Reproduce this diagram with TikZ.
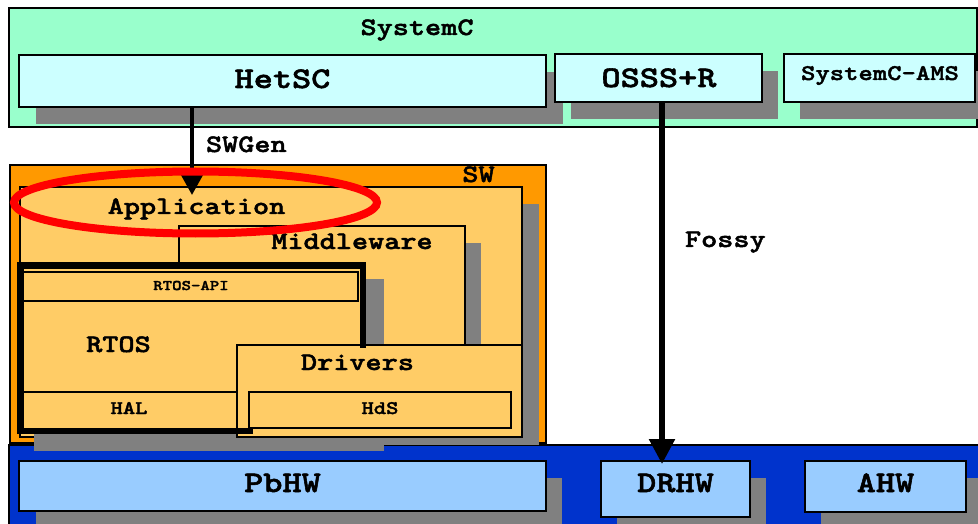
\documentclass[tikz,border=0pt]{standalone}
\usepackage{fontspec}
\usetikzlibrary{arrows.meta}
% bold typewriter face, widened to Courier proportions and darkened
\newfontfamily\cour{lmmonolt10-bold}[Extension=.otf, FakeStretch=1.22, FakeBold=1.8]
\newcommand\fs[1]{\cour\fontsize{#1}{#1}\selectfont}
\definecolor{mint}{HTML}{99FFCC}
\definecolor{paleCyan}{HTML}{CCFFFF}
\definecolor{swOrange}{HTML}{FF9900}
\definecolor{layerOrange}{HTML}{FFCC66}
\definecolor{hwBlue}{HTML}{0033CC}
\definecolor{paleBlue}{HTML}{99CCFF}
\definecolor{dropGray}{HTML}{808080}
\tikzset{
  panelbox/.style={rectangle, draw=black, line width=2pt, inner sep=0pt, outer sep=0pt},
  mintbox/.style={panelbox, fill=mint},
  cyanbox/.style={panelbox, fill=paleCyan},
  swbox/.style={panelbox, fill=swOrange},
  layerbox/.style={panelbox, fill=layerOrange},
  hwbox/.style={panelbox, fill=hwBlue},
  bluebox/.style={panelbox, fill=paleBlue},
  dropshadow/.style={fill=dropGray},
  lbl/.style={inner sep=0pt, outer sep=0pt, anchor=base, text=black},
  lblw/.style={lbl, anchor=base west},
  big/.style={font=\fs{29.9}},
  mid/.style={font=\fs{25.2}},
  ams/.style={font=\fs{22.4}},
  small/.style={font=\fs{19.2}},
  tiny/.style={font=\fs{14.7}},
  flow/.style={draw=black},
}
% \panel{name}{style}{x1}{y1}{x2}{y2}
\newcommand\panel[6]{%
  \node[#2, minimum width={(#5-#3)*1pt}, minimum height={(#6-#4)*1pt}]
    (#1) at ({(#3+#5)/2},{(#4+#6)/2}) {};}
\begin{document}
\begin{tikzpicture}[x=1pt, y=-1pt]
\useasboundingbox (0,0) rectangle (978,524);
\clip (0,0) rectangle (978,524);
\fill[white] (0,0) rectangle (978,524);

% ---- SystemC layer ----
\panel{systemc}{mintbox}{9}{8}{977}{127}
\path[dropshadow] (36,72) rectangle (563,124);
\path[dropshadow] (571,71) rectangle (778,119);
\path[dropshadow] (800,71) rectangle (992,119);
\panel{hetsc}{cyanbox}{19}{55}{546}{107}
\panel{osss}{cyanbox}{555}{54}{762}{102}
\panel{ams}{cyanbox}{784}{54}{975}{102}
\node[lbl, mid] (tsystemc) at (417,35) {SystemC};
\node[lbl, big] (thetsc) at (282.5,88) {HetSC};
\node[lbl, big] (tosss) at (659,87) {OSSS+R};
\node[lbl, ams] (tams) at (880,80) {SystemC-AMS};

% ---- hardware layer ----
\panel{hw}{hwbox}{9}{445}{995}{545}
\path[dropshadow] (36,478) rectangle (562,540);
\path[dropshadow] (617,478) rectangle (766,540);
\path[dropshadow] (821,478) rectangle (990,540);
\panel{pbhw}{bluebox}{19}{461}{546}{511}
\panel{drhw}{bluebox}{601}{461}{750}{517}
\panel{ahw}{bluebox}{805}{461}{966}{512}
\node[lbl, big] (tpbhw) at (282.5,492) {PbHW};
\node[lbl, big] (tdrhw) at (675.5,492) {DRHW};
\node[lbl, big] (tahw) at (885.5,492) {AHW};

% ---- software stack ----
\panel{sw}{swbox}{10}{165}{546}{443}
\node[lbl, mid] (tsw) at (478.5,182) {SW};
\path[dropshadow] (37,204) rectangle (539,445);
\panel{app}{layerbox}{20}{187}{522}{437}
\path[dropshadow] (196,243) rectangle (481,445);
\panel{mw}{layerbox}{179}{226}{465}{437}
\path[dropshadow] (34,279) rectangle (384,451);
\panel{rtos}{layerbox}{20}{265}{363}{431}
\panel{api}{layerbox}{22}{272}{358}{301}
\panel{hal}{layerbox}{20}{392}{237}{431}
\panel{drv}{layerbox}{237}{345}{522}{437}
\panel{hds}{layerbox}{249}{392}{511}{428}
% heavy outline round the RTOS block
\draw[line width=6.5pt, line cap=rect, line join=miter]
  (250,430.75) -- (20.25,430.75) -- (20.25,265.25) -- (362.75,265.25) -- (362.75,345);

\node[lbl, mid] (tapp) at (196.5,214) {Application};
\node[lbl, mid] (tmw) at (352,249) {Middleware};
\node[lbl, tiny] (tapi) at (191,290) {RTOS-API};
\node[lbl, mid] (trtos) at (118.5,352) {RTOS};
\node[lbl, mid] (tdrv) at (357.5,370) {Drivers};
\node[lbl, small] (thal) at (129,414) {HAL};
\node[lbl, small] (thds) at (380,414) {HdS};

% ---- generation flows ----
\coordinate (swgentip) at (192,195);
\coordinate (fossytip) at (662,464);
\draw[flow, line width=4pt, -{Triangle[length=20pt,width=21pt]}]
  (hetsc.south -| swgentip) -- (swgentip);
\draw[flow, line width=5.5pt, -{Triangle[length=25pt,width=25pt]}]
  (osss.south -| fossytip) -- (fossytip);
\node[lblw, mid] (tswgen) at (206,152) {SWGen};
\node[lblw, mid] (tfossy) at (685,247) {Fossy};

% hand-drawn highlight round the application layer
\draw[red, line width=8pt] (195.5,202.5) ellipse [x radius=181.5, y radius=31];
\end{tikzpicture}
\end{document}
